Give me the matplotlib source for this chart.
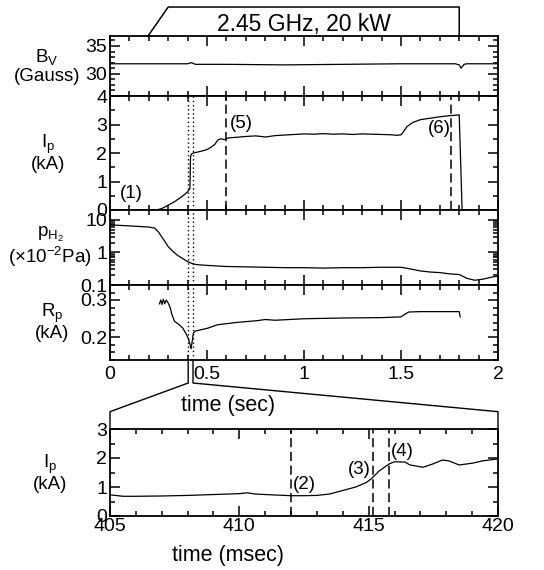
import matplotlib
matplotlib.use("Agg")
import matplotlib.pyplot as plt
from matplotlib.ticker import MultipleLocator, FixedLocator, NullFormatter, LogLocator

plt.rcParams["font.family"] = ["Liberation Sans", "DejaVu Sans"]
plt.rcParams["mathtext.fontset"] = "custom"
plt.rcParams["mathtext.rm"] = "Liberation Sans"
plt.rcParams["mathtext.it"] = "Liberation Sans"
plt.rcParams["font.size"] = 13.5
plt.rcParams["xtick.labelsize"] = 14
plt.rcParams["ytick.labelsize"] = 14

# --- data ---
# vertical field (Gauss)
bv_t = [0, 0.2, 0.4, 0.42, 0.44, 0.6, 0.9, 1.2, 1.5, 1.78, 1.80, 1.81, 1.825, 1.84, 2.0]
bv = [31.8, 31.8, 31.8, 32.0, 31.7, 31.7, 31.6, 31.7, 31.8, 31.8, 31.6, 31.0, 31.7, 31.8, 31.8]

# plasma current (kA), main time base (sec)
ip_t = [0, 0.24, 0.27, 0.30, 0.33, 0.36, 0.38, 0.40, 0.412, 0.415, 0.42, 0.43, 0.45,
        0.48, 0.50, 0.52, 0.54, 0.555, 0.57, 0.59, 0.61, 0.65, 0.70, 0.75, 0.78, 0.80,
        0.85, 0.90, 0.95, 1.00, 1.05, 1.10, 1.15, 1.20, 1.25, 1.30, 1.35, 1.40, 1.45,
        1.48, 1.50, 1.51, 1.53, 1.56, 1.60, 1.65, 1.70, 1.75, 1.79, 1.80, 1.815, 2.0]
ip = [0, 0, 0.06, 0.17, 0.28, 0.42, 0.52, 0.64, 0.75, 1.85, 1.97, 2.0, 2.03,
      2.08, 2.12, 2.2, 2.3, 2.45, 2.5, 2.47, 2.53, 2.55, 2.58, 2.6, 2.58, 2.56,
      2.61, 2.63, 2.65, 2.67, 2.66, 2.68, 2.66, 2.67, 2.65, 2.67, 2.66, 2.65, 2.64,
      2.62, 2.64, 2.72, 2.92, 3.07, 3.17, 3.22, 3.27, 3.31, 3.33, 3.34, 0, 0]

# H2 pressure (x1e-2 Pa)
ph_t = [0, 0.1, 0.2, 0.23, 0.25, 0.28, 0.30, 0.33, 0.35, 0.38, 0.40, 0.43, 0.45,
        0.50, 0.60, 0.70, 0.80, 0.90, 1.0, 1.1, 1.2, 1.3, 1.4, 1.5, 1.55, 1.60,
        1.65, 1.70, 1.75, 1.80, 1.84, 1.88, 1.92, 1.96, 2.0]
ph = [7.0, 6.5, 6.0, 5.6, 4.2, 2.3, 1.5, 1.0, 0.8, 0.62, 0.52, 0.44, 0.42,
      0.40, 0.37, 0.36, 0.35, 0.34, 0.34, 0.33, 0.34, 0.34, 0.35, 0.35, 0.31, 0.27,
      0.25, 0.24, 0.22, 0.21, 0.16, 0.14, 0.15, 0.17, 0.19]

# major radius of current centre
rp_t = [0.255, 0.262, 0.268, 0.275, 0.282, 0.29, 0.30, 0.31, 0.32, 0.333, 0.357,
        0.375, 0.39, 0.405, 0.418, 0.43, 0.44, 0.505, 0.554, 0.65, 0.76, 0.80, 0.85,
        1.0, 1.2, 1.4, 1.5, 1.52, 1.54, 1.6, 1.8, 1.805]
rp = [0.29, 0.30, 0.288, 0.302, 0.29, 0.30, 0.292, 0.28, 0.26, 0.243, 0.234,
      0.225, 0.212, 0.196, 0.170, 0.212, 0.217, 0.225, 0.234, 0.24, 0.245, 0.248, 0.246,
      0.25, 0.252, 0.253, 0.255, 0.262, 0.268, 0.269, 0.269, 0.255]

# zoomed plasma current (kA), time in msec
zm_t = [405, 405.5, 406, 407, 408, 409, 410, 410.3, 410.6, 411, 411.5, 412, 412.5,
        413, 413.5, 414, 414.5, 414.9, 415.1, 415.4, 415.8, 416.0, 416.4, 416.6,
        417.1, 417.5, 417.85, 418.1, 418.5, 419.0, 419.4, 420]
zm_ip = [0.73, 0.68, 0.68, 0.69, 0.71, 0.74, 0.77, 0.80, 0.76, 0.74, 0.72, 0.70, 0.70,
         0.71, 0.76, 0.88, 1.0, 1.15, 1.28, 1.55, 1.80, 1.87, 1.86, 1.76,
         1.68, 1.80, 1.93, 1.90, 1.76, 1.82, 1.90, 1.97]

sec_ticks = [0, 0.5, 1, 1.5, 2]
sec_labels = ["0", "0.5", "1", "1.5", "2"]
dotted_t = [0.403, 0.428]
dashed_t = [0.60, 1.76]
dashed_ms = [412.0, 415.15, 415.8]
rf_t = [0.196, 0.30, 1.80, 1.80]

fig = plt.figure(figsize=(5.44, 5.70), dpi=100)
L, W = 110 / 544, 388 / 544


def frac(top, bottom):
    return [L, 1 - bottom / 570, W, (bottom - top) / 570]


ax_bv = fig.add_axes(frac(36, 96))
ax_ip = fig.add_axes(frac(96, 210))
ax_ph = fig.add_axes(frac(210, 285))
ax_rp = fig.add_axes(frac(285, 360))
ax_zm = fig.add_axes(frac(429, 516))

lw = 0.9
for ax in [ax_bv, ax_ip, ax_ph, ax_rp, ax_zm]:
    for s in ax.spines.values():
        s.set_linewidth(1.3)
    ax.tick_params(which="both", direction="in", top=True, right=True, width=1.1)
    ax.tick_params(which="major", length=7, pad=2)
    ax.tick_params(which="minor", length=3.5)

for ax in [ax_bv, ax_ip, ax_ph, ax_rp]:
    ax.set_xticks(sec_ticks)
    ax.xaxis.set_minor_locator(MultipleLocator(0.1))
    if ax is ax_rp:
        ax.set_xticklabels(sec_labels)
    else:
        ax.set_xticklabels([])
    ax.set_xlim(0, 2)

# Bv
ax_bv.plot(bv_t, bv, color="black", lw=lw)
ax_bv.set_ylim(26.0, 36.8)
ax_bv.set_yticks([30, 35])
ax_bv.yaxis.set_minor_locator(MultipleLocator(1))

# title box for RF pulse
tr = ax_bv.get_xaxis_transform()
ax_bv.plot(rf_t, [1.0, 1.483, 1.483, 1.0], color="black", lw=1.1, transform=tr, clip_on=False)
ax_bv.text(1.0, 1.19, "2.45 GHz, 20 kW", transform=tr, ha="center", va="center", fontsize=16.5)

# Ip
ax_ip.plot(ip_t, ip, color="black", lw=lw)
ax_ip.set_ylim(0, 4)
ax_ip.set_yticks([0, 1, 2, 3, 4])
ax_ip.yaxis.set_minor_locator(MultipleLocator(0.5))
for t in dashed_t:
    ax_ip.axvline(t, color="black", lw=1.1, ls=(0, (6, 3)))
ax_ip.text(0.108, 0.59, "(1)", ha="center", va="center")
ax_ip.text(0.675, 3.03, "(5)", ha="center", va="center")
ax_ip.text(1.696, 2.87, "(6)", ha="center", va="center")

# pH2
ax_ph.plot(ph_t, ph, color="black", lw=lw)
ax_ph.set_yscale("log")
ax_ph.set_ylim(0.1, 20)
ax_ph.yaxis.set_major_locator(FixedLocator([0.1, 1, 10]))
ax_ph.yaxis.set_minor_locator(LogLocator(base=10, subs=range(2, 10)))
ax_ph.yaxis.set_minor_formatter(NullFormatter())
ax_ph.set_yticklabels(["0.1", "1", "10"])

# Rp
ax_rp.plot(rp_t, rp, color="black", lw=lw)
ax_rp.set_ylim(0.14, 0.34)
ax_rp.set_yticks([0.2, 0.3])
ax_rp.yaxis.set_minor_locator(MultipleLocator(0.02))
ax_rp.tick_params(axis="x", pad=4)

for ax in [ax_ip, ax_ph, ax_rp]:
    for t in dotted_t:
        ax.axvline(t, color="black", lw=1.0, ls=(0, (1, 2)))

# zoom connectors
trp = ax_rp.get_xaxis_transform()
ax_rp.plot([dotted_t[0], dotted_t[0], 0, 0], [0, -0.307, -0.689, -0.92],
           color="black", lw=1.0, transform=trp, clip_on=False)
ax_rp.plot([dotted_t[1], dotted_t[1], 2, 2], [0, -0.307, -0.689, -0.92],
           color="black", lw=1.0, transform=trp, clip_on=False)
ax_rp.set_xlim(0, 2)

# zoomed Ip
ax_zm.plot(zm_t, zm_ip, color="black", lw=lw)
ax_zm.set_xlim(405, 420)
ax_zm.set_ylim(0, 3)
ax_zm.xaxis.set_major_locator(MultipleLocator(5))
ax_zm.xaxis.set_minor_locator(MultipleLocator(1))
ax_zm.set_yticks([0, 1, 2, 3])
ax_zm.yaxis.set_minor_locator(MultipleLocator(0.5))
ax_zm.tick_params(axis="x", pad=1.5)
for t in dashed_ms:
    ax_zm.axvline(t, color="black", lw=1.1, ls=(0, (6, 3)))
ax_zm.text(412.5, 1.07, "(2)", ha="center", va="center")
ax_zm.text(414.65, 1.59, "(3)", ha="center", va="center")
ax_zm.text(416.3, 2.24, "(4)", ha="center", va="center")


# axis labels
def lab(x, y, s):
    fig.text(x / 544, 1 - y / 570, s, ha="center", va="center", multialignment="center",
             linespacing=1.05)


lab(47, 66, "B$_\\mathrm{V}$\n(Gauss)")
lab(48, 153, "I$_\\mathrm{p}$\n(kA)")
lab(50, 247, "p$_{\\mathrm{H}_2}$\n(\u00d710$^{-2}$Pa)")
lab(52, 322, "R$_\\mathrm{p}$\n(kA)")
lab(50, 473, "I$_\\mathrm{p}$\n(kA)")

fig.text(228 / 544, 1 - 405 / 570, "time (sec)", ha="center", va="center", fontsize=15.5)
fig.text(228 / 544, 1 - 555 / 570, "time (msec)", ha="center", va="center", fontsize=15.5)

fig.savefig("out.png", dpi=100)
